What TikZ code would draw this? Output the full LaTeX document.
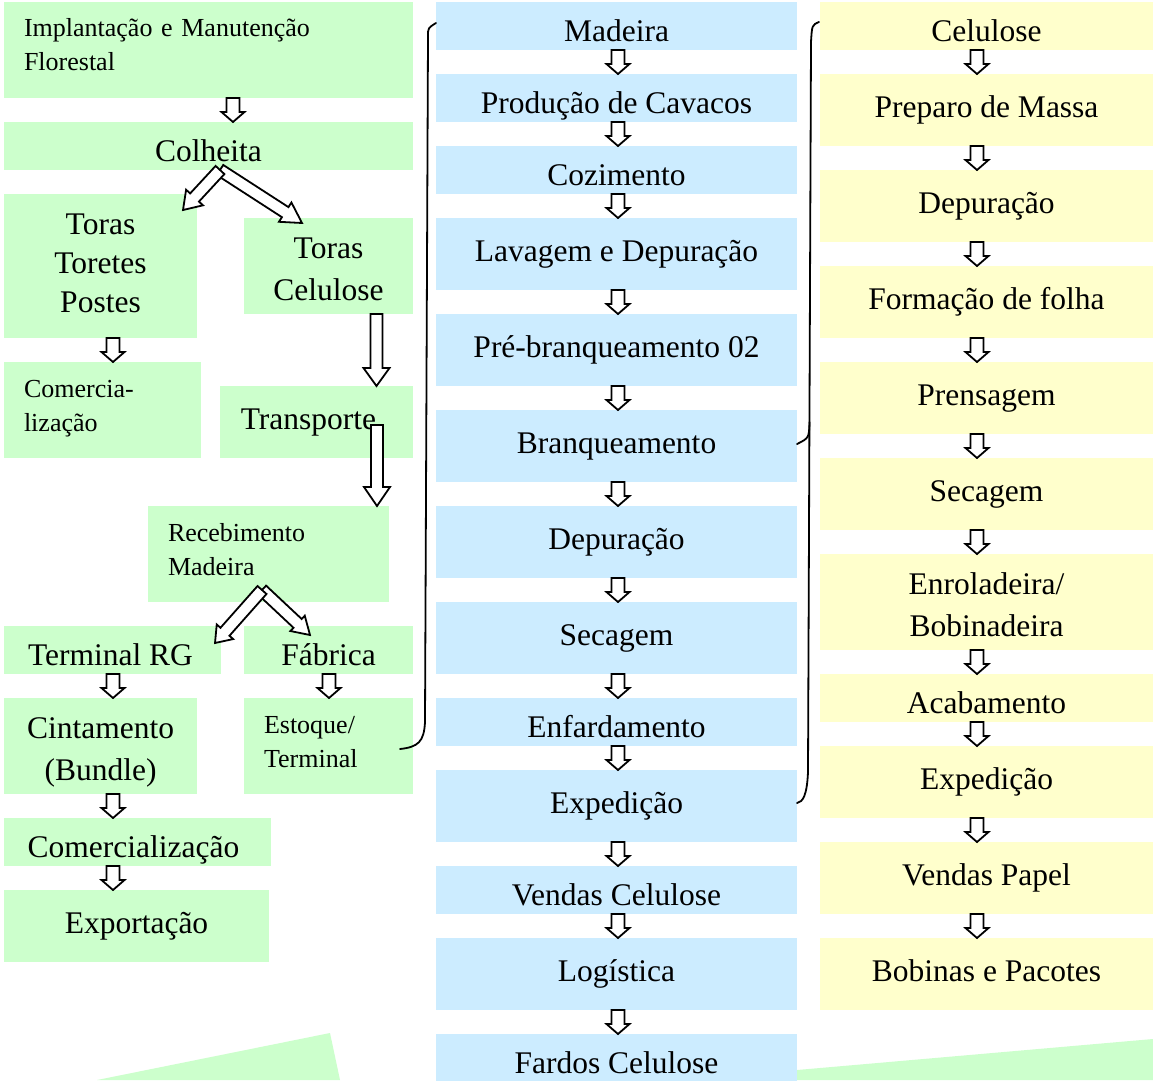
\documentclass[tikz,border=0pt]{standalone}
\usepackage{fontspec}
\setmainfont{Liberation Serif}
\usetikzlibrary{calc}
\definecolor{boxgreen}{HTML}{CCFFCC}
\definecolor{boxblue}{HTML}{CCECFF}
\definecolor{boxyellow}{HTML}{FFFFCC}
\newcommand\bigtext{\fontsize{31.5}{42}\selectfont}
\newcommand\smalltext{\fontsize{26}{34}\selectfont}
% several lines set as a block, moved up or down without changing its size
\newcommand\textblock[3]{\raisebox{#1}[\height][\depth]{\begin{tabular}{@{}#2@{}}#3\end{tabular}}}

% hollow block arrow: from, to, shaft half-width, head half-width, head length (pt)
\newcommand\blockarrow[5]{%
  \path let \p1=($#2-#1$) in \pgfextra{%
    \pgfmathparse{atan2(\y1,\x1)}\xdef\baangle{\pgfmathresult}%
    \pgfmathparse{veclen(\x1,\y1)}\xdef\balength{\pgfmathresult}};
  \draw[hollow, shift={#1}, rotate=\baangle]
    (0pt,-#3pt) -- ({\balength pt-#5pt},-#3pt) -- ({\balength pt-#5pt},-#4pt)
    -- (\balength pt,0pt) -- ({\balength pt-#5pt},#4pt) -- ({\balength pt-#5pt},#3pt)
    -- (0pt,#3pt) -- cycle;
}
\newcommand\smallarrow[2]{\blockarrow{#1}{#2}{6.5}{11.5}{10}}

\tikzset{
  box/.style={inner sep=0pt, outer sep=0pt, font=\bigtext},
  gbox/.style={box, fill=boxgreen},
  bbox/.style={box, fill=boxblue, minimum width=361pt},
  ybox/.style={box, fill=boxyellow, minimum width=333pt},
  short/.style={text height=39.5pt, text depth=8.5pt, minimum height=48pt},
  tall/.style={text height=43.5pt, text depth=28.5pt, minimum height=72pt},
  note/.style={font=\smalltext, align=left},
  hollow/.style={draw=black, fill=white, line width=1.8pt, line join=miter},
  brace/.style={draw=black, line width=1.8pt, line cap=round, line join=round},
}

\begin{document}
\begin{tikzpicture}[x=1pt, y=-1pt]
\useasboundingbox (0,0) rectangle (1153,1080);
\fill[white] (0,0) rectangle (1153,1080);

% background shapes along the lower edge
\fill[boxgreen] (97,1080) -- (330,1033) -- (340,1080) -- cycle;
\fill[boxgreen] (797,1070) -- (1153,1039) -- (1153,1080) -- (797,1080) -- cycle;

% ---------- forest and wood handling ----------
\node[gbox, note, minimum width=409pt, minimum height=96pt, text width=369pt] (impl) at (208.5,50)
  {\textblock{3pt}{l}{Implantação e Manutenção\\Florestal}};
\node[gbox, short, minimum width=409pt] (colheita) at (208.5,146) {Colheita};
\node[gbox, minimum width=193pt, minimum height=144pt] (toras1) at (100.5,266)
  {\fontsize{31.5}{39}\selectfont\textblock{0pt}{c}{Toras\\Toretes\\Postes}};
\node[gbox, minimum width=169pt, minimum height=96pt] (toras2) at (328.5,266)
  {\textblock{-4.6pt}{c}{Toras\\Celulose}};
\node[gbox, note, minimum width=197pt, minimum height=96pt, text width=157pt] (comerc1) at (102.5,410)
  {\textblock{2pt}{l}{Comercia-\\lização}};
\node[gbox, tall, minimum width=193pt] (transp) at (316.5,422) {Transporte\hspace*{16pt}};
\node[gbox, note, minimum width=241pt, minimum height=96pt, text width=201pt] (receb) at (268.5,554)
  {\textblock{2pt}{l}{Recebimento\\Madeira}};
\node[gbox, short, minimum width=217pt] (termrg) at (112.5,650) {Terminal RG\hspace*{4pt}};
\node[gbox, short, minimum width=169pt] (fabrica) at (328.5,650) {Fábrica};
\node[gbox, minimum width=193pt, minimum height=96pt] (cint) at (100.5,746)
  {\textblock{-4.6pt}{c}{Cintamento\\(Bundle)}};
\node[gbox, note, minimum width=169pt, minimum height=96pt, text width=129pt] (estoque) at (328.5,746)
  {\textblock{2pt}{l}{Estoque/\\Terminal}};
\node[gbox, short, minimum width=267pt] (comerc2) at (137.5,842) {Comercialização\hspace*{8pt}};
\node[gbox, tall, minimum width=265pt] (export) at (136.5,926) {Exportação};

% ---------- pulp line ----------
\node[bbox, short] (madeira) at (616.5,26) {Madeira};
\node[bbox, short] (cavacos) at (616.5,98) {Produção de Cavacos};
\node[bbox, short] (cozim) at (616.5,170) {Cozimento};
\node[bbox, tall] (lavagem) at (616.5,254) {Lavagem e Depuração};
\node[bbox, tall] (prebranq) at (616.5,350) {Pré-branqueamento 02};
\node[bbox, tall] (branq) at (616.5,446) {Branqueamento};
\node[bbox, tall] (depur) at (616.5,542) {Depuração};
\node[bbox, tall] (secag) at (616.5,638) {Secagem};
\node[bbox, short] (enfard) at (616.5,722) {Enfardamento};
\node[bbox, tall] (exped) at (616.5,806) {Expedição};
\node[bbox, short] (vendas) at (616.5,890) {Vendas Celulose};
\node[bbox, tall] (logist) at (616.5,974) {Logística};
\node[bbox, short] (fardos) at (616.5,1058) {Fardos Celulose};

% ---------- paper line ----------
\node[ybox, short] (celulose) at (986.5,26) {Celulose};
\node[ybox, tall] (preparo) at (986.5,110) {Preparo de Massa};
\node[ybox, tall] (depur2) at (986.5,206) {Depuração};
\node[ybox, tall] (formacao) at (986.5,302) {Formação de folha};
\node[ybox, tall] (prensag) at (986.5,398) {Prensagem};
\node[ybox, tall] (secag2) at (986.5,494) {Secagem};
\node[ybox, minimum height=96pt] (enrol) at (986.5,602)
  {\textblock{-4.6pt}{c}{Enroladeira/\\Bobinadeira}};
\node[ybox, short] (acab) at (986.5,698) {Acabamento};
\node[ybox, tall] (exped2) at (986.5,782) {Expedição};
\node[ybox, tall] (vendas2) at (986.5,878) {Vendas Papel};
\node[ybox, tall] (bobinas) at (986.5,974) {Bobinas e Pacotes};

% ---------- arrows of the wood handling ----------
\coordinate (s1) at ($(impl.south)+(24.5,0)$);
\smallarrow{(s1)}{(colheita.north -| s1)}
\coordinate (s2) at ($(colheita.south)+(11.5,0)$);
\coordinate (e2a) at ($(toras1.north)+(82.5,16)$);
\coordinate (e2b) at ($(toras2.north)+(-26.5,5)$);
\blockarrow{(s2)}{(e2b)}{6}{11.5}{20}
\blockarrow{(s2)}{(e2a)}{6}{11.5}{17}
\coordinate (s3) at ($(toras1.south)+(12.5,0)$);
\smallarrow{(s3)}{(comerc1.north -| s3)}
\coordinate (s4) at ($(toras2.south)+(48,0)$);
\blockarrow{(s4)}{(transp.north -| s4)}{6}{13}{18}
\coordinate (s5) at ($(transp.south)+(60.5,-33)$);
\blockarrow{(s5)}{(receb.north -| s5)}{6}{13}{19}
\coordinate (s6) at ($(receb.south)+(-6.5,-12)$);
\coordinate (e6a) at ($(termrg.north)+(102.5,17)$);
\coordinate (e6b) at ($(fabrica.north)+(-18.5,9)$);
\blockarrow{(s6)}{(e6b)}{6}{10.5}{17}
\blockarrow{(s6)}{(e6a)}{6}{11}{15}
\coordinate (s7) at ($(termrg.south)+(0.5,0)$);
\smallarrow{(s7)}{(cint.north -| s7)}
\coordinate (s8) at ($(fabrica.south)+(0.5,0)$);
\smallarrow{(s8)}{(estoque.north -| s8)}
\coordinate (s9) at ($(cint.south)+(12.5,0)$);
\smallarrow{(s9)}{(comerc2.north -| s9)}
\coordinate (s10) at (comerc2.south -| s9);
\smallarrow{(s10)}{(export.north -| s10)}

% ---------- arrows of the pulp line ----------
\foreach \a/\b in {madeira/cavacos, cavacos/cozim, cozim/lavagem, lavagem/prebranq,
  prebranq/branq, branq/depur, depur/secag, secag/enfard, enfard/exped,
  exped/vendas, vendas/logist, logist/fardos}{
  \coordinate (bs) at ($(\a.south)+(1.5,0)$);
  \smallarrow{(bs)}{(\b.north -| bs)}
}

% ---------- arrows of the paper line ----------
\foreach \a/\b in {celulose/preparo, preparo/depur2, depur2/formacao, formacao/prensag,
  prensag/secag2, secag2/enrol, enrol/acab, acab/exped2, exped2/vendas2, vendas2/bobinas}{
  \coordinate (ys) at ($(\a.south)+(-9.5,0)$);
  \smallarrow{(ys)}{(\b.north -| ys)}
}

% ---------- braces ----------
\coordinate (lb1) at ($(estoque.east)+(-13,3)$);
\coordinate (lb2) at ($(madeira.west)+(0,-3)$);
\draw[brace] (lb1) .. controls (418,747) and (424,742) .. (425,722)
  -- (428,36) .. controls (428,28) .. (lb2);

\coordinate (rb1) at ($(celulose.west)+(-1,-4)$);
\coordinate (rb2) at ($(exped.east)+(0,-3)$);
\coordinate (rb3) at ($(branq.east)+(0,-2)$);
\draw[brace] (rb1) .. controls (812,25) .. (811,42)
  -- (808,772) .. controls (807,795) and (803,802) .. (rb2);
\draw[brace] (809.5,422) .. controls (809,438) .. (rb3);
\end{tikzpicture}
\end{document}
